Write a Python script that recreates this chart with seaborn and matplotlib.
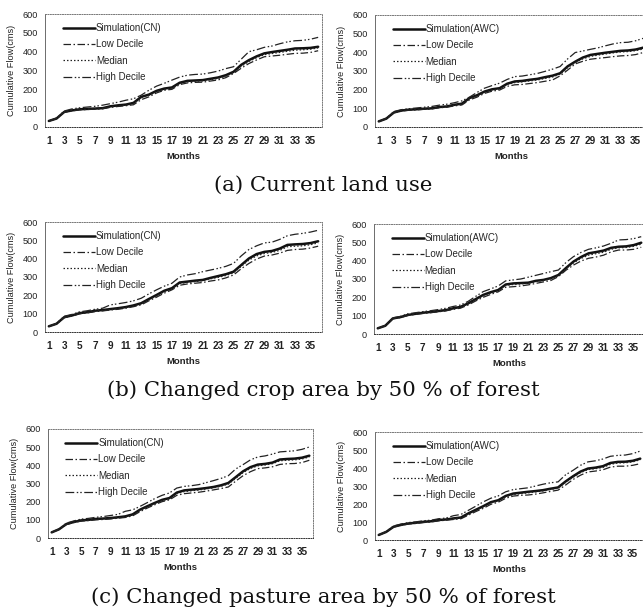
import matplotlib
matplotlib.use("Agg")
import matplotlib.pyplot as plt
import seaborn as sns
import numpy as np

sns.set_theme(style="white")
plt.rcParams["font.family"] = ["Liberation Sans", "DejaVu Sans"]

months = list(range(1, 37))
month_ticks = list(range(1, 37, 2))
flow_ticks = [0, 100, 200, 300, 400, 500, 600]

series_names = ["Low Decile", "Median", "High Decile"]

# (a) Current land use
sim_a_cn = [32,45,80,88,94,96,98,100,110,115,119,128,160,172,192,204,210,235,245,247,249,256,263,275,293,330,355,375,391,398,404,410,417,418,420,426]
low_a_cn = [32,44,78,86,91,93,95,97,104,109,113,118,145,160,181,195,200,225,234,237,238,244,250,262,284,312,337,356,373,377,381,386,391,392,396,405]
med_a_cn = [32,45,80,88,93,95,97,99,107,112,116,124,155,168,188,200,206,230,240,243,245,251,258,270,289,322,348,368,384,390,396,402,408,410,413,420]
high_a_cn = [32,48,85,96,102,106,110,116,124,132,142,150,169,195,217,232,249,265,275,279,281,288,297,310,320,360,400,410,423,430,442,452,458,460,466,476]

sim_a_awc = [30,45,78,88,93,95,98,100,107,110,119,125,155,170,190,202,208,232,244,247,253,258,267,275,288,325,350,372,386,392,398,403,408,410,415,425]
low_a_awc = [30,44,76,86,90,92,95,97,103,106,113,118,145,160,180,192,198,218,226,228,233,238,245,252,274,305,338,352,363,368,372,377,381,383,388,399]
med_a_awc = [30,45,78,88,92,94,97,99,105,109,117,122,152,166,186,198,204,228,238,242,247,252,260,268,283,318,345,365,378,385,391,397,402,404,409,418]
high_a_awc = [30,47,83,93,98,102,106,110,117,122,130,140,160,185,208,222,235,255,270,273,280,287,298,310,324,365,399,407,416,424,435,445,452,454,462,475]

# (b) Changed crop area by 50 % of forest
sim_b_cn = [31,45,81,90,103,108,116,120,125,130,136,145,157,180,202,225,239,270,275,280,284,295,305,315,329,365,401,425,437,442,455,475,478,480,485,495]
low_b_cn = [31,44,78,87,99,104,111,115,120,124,130,138,148,170,190,212,230,255,262,266,270,278,284,295,311,345,374,398,414,420,430,445,450,452,458,468]
med_b_cn = [31,45,80,89,101,106,114,118,123,128,134,142,154,176,197,220,236,265,270,275,280,290,298,308,322,358,392,415,428,434,445,465,468,470,476,486]
high_b_cn = [31,47,86,96,110,116,124,130,148,154,161,170,184,208,230,250,266,300,311,318,329,338,347,358,374,415,450,470,486,490,505,525,533,538,545,555]

sim_b_awc = [31,45,85,92,104,110,116,120,125,130,140,148,167,190,213,228,240,270,276,278,280,290,295,305,322,360,395,420,440,447,455,470,476,478,485,498]
low_b_awc = [31,44,83,90,101,107,112,116,121,126,134,141,158,180,200,216,230,255,258,262,268,276,284,292,313,348,376,398,413,420,430,448,458,458,462,473]
med_b_awc = [31,45,84,91,103,109,115,119,124,129,138,146,164,186,208,224,237,265,270,273,276,286,292,301,319,356,388,412,430,438,446,462,470,472,478,490]
high_b_awc = [31,47,88,96,110,116,122,127,133,140,150,158,178,205,231,246,262,290,295,300,310,320,330,340,349,390,422,445,462,470,480,495,513,515,520,531]

# (c) Changed pasture area by 50 % of forest
sim_c_cn = [31,48,77,88,97,100,105,107,110,114,119,130,156,175,193,210,220,250,262,266,270,275,281,290,303,335,367,390,404,408,415,432,435,437,442,453]
low_c_cn = [31,47,74,85,93,96,100,102,105,109,113,122,145,165,183,200,210,235,244,248,252,258,265,272,281,313,343,365,382,386,392,405,409,410,415,428]
med_c_cn = [31,48,76,87,95,98,103,105,108,112,117,127,152,171,189,206,216,245,255,260,264,270,276,285,297,328,360,383,397,402,409,425,428,430,435,446]
high_c_cn = [31,50,82,94,104,108,114,118,124,130,147,155,174,195,217,235,248,275,284,288,294,305,316,328,343,380,404,430,446,452,462,474,477,480,488,501]

sim_c_awc = [28,45,74,84,92,96,101,104,111,114,120,125,148,168,188,210,221,245,258,263,268,272,277,285,292,325,354,380,397,402,410,428,434,435,440,452]
low_c_awc = [28,44,72,82,89,92,97,100,106,110,114,118,138,158,176,198,210,232,244,248,250,255,262,270,277,305,336,360,378,383,390,405,410,410,415,424]
med_c_awc = [28,45,73,83,91,95,100,103,109,113,118,123,145,165,185,206,217,240,252,257,262,267,273,281,288,320,348,374,391,396,403,420,428,429,434,446]
high_c_awc = [28,47,78,89,97,101,107,110,118,122,135,142,165,188,212,232,245,268,280,285,290,300,310,318,323,362,387,415,434,440,450,465,470,472,480,494]

captions = ["(a) Current land use",
            "(b) Changed crop area by 50 % of forest",
            "(c) Changed pasture area by 50 % of forest"]

W, H = 643, 614
fig = plt.figure(figsize=(W / 100, H / 100), dpi=100)
fig.patch.set_facecolor("white")

# axes boxes in pixels: left, top, width, height
boxes = [
    (45, 14, 277, 113), (375, 15, 272, 112),
    (45, 222, 277, 110), (374, 224, 271, 110),
    (48, 429, 265, 109), (375, 432, 269, 108),
]
panels = [
    ("Simulation(CN)", sim_a_cn, low_a_cn, med_a_cn, high_a_cn),
    ("Simulation(AWC)", sim_a_awc, low_a_awc, med_a_awc, high_a_awc),
    ("Simulation(CN)", sim_b_cn, low_b_cn, med_b_cn, high_b_cn),
    ("Simulation(AWC)", sim_b_awc, low_b_awc, med_b_awc, high_b_awc),
    ("Simulation(CN)", sim_c_cn, low_c_cn, med_c_cn, high_c_cn),
    ("Simulation(AWC)", sim_c_awc, low_c_awc, med_c_awc, high_c_awc),
]

styles = [
    dict(linestyle="-", linewidth=1.8, color="#111111"),
    dict(linestyle=(0, (6, 2, 1.2, 2)), linewidth=0.9, color="#222222"),
    dict(linestyle=(0, (1.2, 1.6)), linewidth=0.9, color="#222222"),
    dict(linestyle=(0, (7, 2, 1.2, 1.6, 1.2, 2)), linewidth=0.9, color="#222222"),
]

for (l, t, w, h), (sim_name, sim, low, med, high) in zip(boxes, panels):
    ax = fig.add_axes([l / W, 1 - (t + h) / H, w / W, h / H])
    names = [sim_name] + series_names
    for vals, name, st in zip([sim, low, med, high], names, styles):
        sns.lineplot(x=months, y=vals, ax=ax, label=name, **st)
    ax.set_xlim(0.5, 36.5)
    ax.set_ylim(0, 600)
    ax.set_xticks(month_ticks)
    ax.set_xticklabels([str(m) for m in month_ticks], fontsize=7.2, fontweight="bold", color="#222222")
    ax.set_yticks(flow_ticks)
    ax.set_yticklabels([str(v) for v in flow_ticks], fontsize=6.6, color="#222222")
    ax.tick_params(axis="both", length=2.5, width=0.6, color="#555555", pad=2.5, direction="out")
    ax.tick_params(axis="x", pad=4)
    ax.set_xlabel("Months", fontsize=6.8, fontweight="bold", color="#222222", labelpad=4)
    ax.set_ylabel("Cumulative Flow(cms)", fontsize=6.6, color="#222222", labelpad=5)
    for side in ["top", "right", "bottom"]:
        ax.spines[side].set_linestyle((0, (1, 1.5)))
        ax.spines[side].set_linewidth(0.7)
        ax.spines[side].set_color("#777777")
    ax.spines["bottom"].set_color("#333333")
    ax.spines["left"].set_linewidth(0.6)
    ax.spines["left"].set_color("#555555")
    ax.legend(loc="upper left", frameon=False, fontsize=7, handlelength=3.3,
              handletextpad=0.1, labelspacing=0.65, borderaxespad=0.3,
              bbox_to_anchor=(0.04, 0.98))

for cap, ypix in zip(captions, [185, 390, 597]):
    fig.text(0.503, 1 - ypix / H, cap, ha="center", va="center",
             fontsize=15.3, family="DejaVu Serif", color="#111111")

fig.savefig("out.png", dpi=100, facecolor="white")
